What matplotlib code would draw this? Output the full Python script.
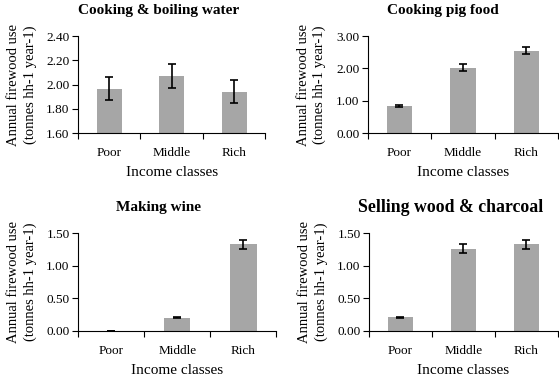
import matplotlib
matplotlib.use("Agg")
import matplotlib.pyplot as plt
import numpy as np

plt.rcParams['font.family'] = ['Liberation Serif', 'DejaVu Serif']

categories = ["Poor", "Middle", "Rich"]
titles = ["Cooking & boiling water", "Cooking pig food", "Making wine", "Selling wood & charcoal"]
values = {
    "cook": [1.965, 2.07, 1.94],
    "pig": [0.84, 2.02, 2.55],
    "wine": [0.0, 0.20, 1.33],
    "sell": [0.21, 1.26, 1.33],
}
errors = {
    "cook": [0.095, 0.10, 0.095],
    "pig": [0.04, 0.10, 0.12],
    "wine": [0.0, 0.01, 0.07],
    "sell": [0.01, 0.07, 0.07],
}
ylims = {"cook": (1.60, 2.40), "pig": (0.0, 3.0), "wine": (0.0, 1.5), "sell": (0.0, 1.5)}
yticks = {
    "cook": [1.60, 1.80, 2.00, 2.20, 2.40],
    "pig": [0.0, 1.0, 2.0, 3.0],
    "wine": [0.0, 0.5, 1.0, 1.5],
    "sell": [0.0, 0.5, 1.0, 1.5],
}
keys = ["cook", "pig", "wine", "sell"]
rects = [
    [0.1395, 0.649, 0.335, 0.256],
    [0.658, 0.649, 0.340, 0.256],
    [0.1395, 0.127, 0.355, 0.258],
    [0.660, 0.127, 0.338, 0.258],
]
title_sizes = [11, 11, 11, 12.8]
title_pads = [16, 16, 16, 15]
title_x = [0.43, 0.395, 0.407, 0.434]

fig = plt.figure(figsize=(5.59, 3.79), dpi=100)
for k, t, r, ts, tp, tx in zip(keys, titles, rects, title_sizes, title_pads, title_x):
    ax = fig.add_axes(r)
    x = np.arange(len(categories))
    bottom = ylims[k][0]
    v = np.array(values[k])
    ax.bar(x, v - bottom, bottom=bottom, width=0.4, color="#a6a6a6", zorder=2)
    ax.errorbar(x, v, yerr=errors[k], fmt="none", ecolor="black", elinewidth=1.2,
                capsize=3, capthick=1.2, zorder=3)
    ax.set_ylim(*ylims[k])
    ax.set_xlim(-0.5, 2.5)
    ax.set_yticks(yticks[k])
    ax.set_yticklabels([f"{tv:.2f}" for tv in yticks[k]], fontsize=9.5)
    ax.set_xticks([-0.5, 0.5, 1.5, 2.5])
    ax.set_xticklabels([])
    ax.set_xticks(x, minor=True)
    ax.set_xticklabels(categories, minor=True, fontsize=9.5)
    ax.tick_params(axis="x", which="minor", length=0, pad=10)
    ax.tick_params(axis="x", which="major", length=4, direction="out", width=0.8)
    ax.tick_params(axis="y", length=4, direction="out", width=0.8, pad=2)
    for s in ["top", "right"]:
        ax.spines[s].set_visible(False)
    ax.spines["left"].set_linewidth(0.8)
    ax.spines["bottom"].set_linewidth(0.8)
    ax.set_title(t, fontsize=ts, fontweight="bold", pad=tp, x=tx)
    ax.set_xlabel("Income classes", fontsize=11, labelpad=5)
    ax.set_ylabel("Annual firewood use\n(tonnes hh-1 year-1)", fontsize=10.5, labelpad=7,
                  linespacing=1.3)

fig.savefig("out.png", dpi=100)
